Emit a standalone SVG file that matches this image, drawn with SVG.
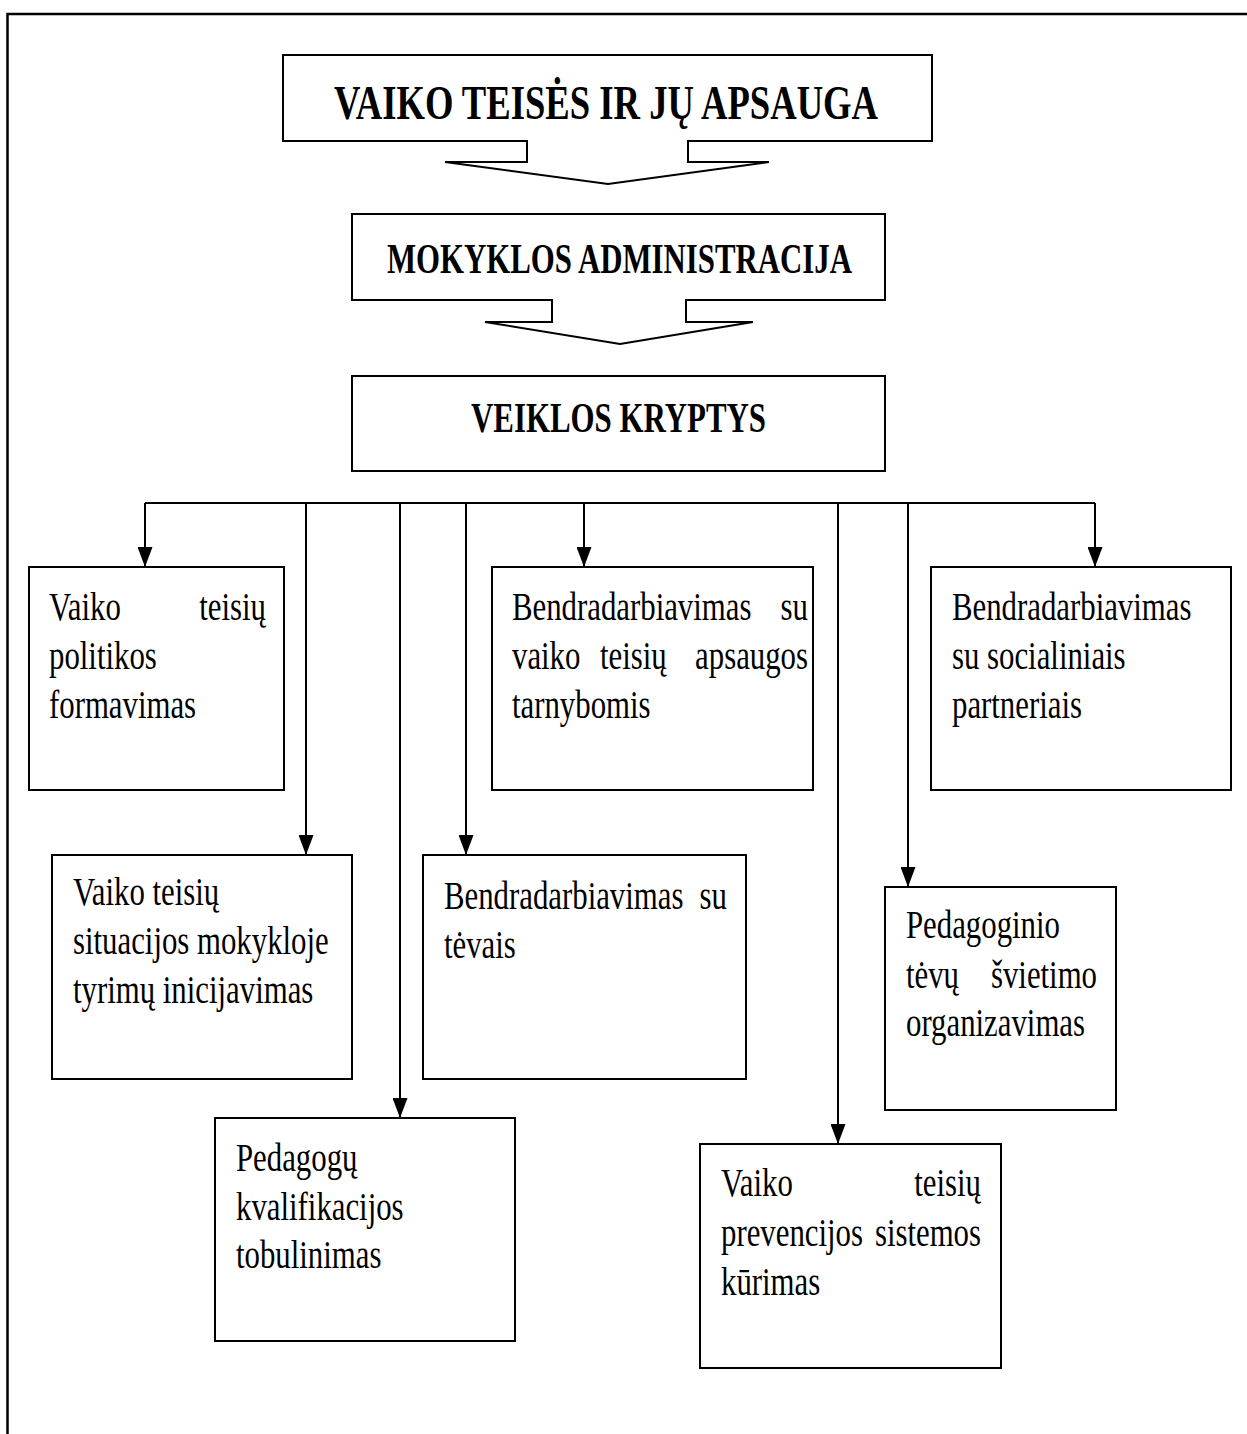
<svg xmlns="http://www.w3.org/2000/svg" width="1247" height="1434" viewBox="0 0 1247 1434">
<defs>
<style>
.bx{fill:#fff;stroke:#000;stroke-width:2}
.ln{fill:none;stroke:#000;stroke-width:2}
.tt{font-family:"Liberation Serif","Times New Roman",serif;font-weight:bold;fill:#000}
.t{font-family:"Liberation Serif","Times New Roman",serif;font-size:40px;fill:#000}
.e{text-anchor:end}
</style>
<marker id="ah" viewBox="0 0 20 15" refX="20" refY="7.5" markerWidth="20" markerHeight="15" markerUnits="userSpaceOnUse" orient="auto">
<path d="M0,0 L20,7.5 L0,15 Z" fill="#000"/>
</marker>
</defs>
<rect width="1247" height="1434" fill="#fff"/>
<path d="M7.5,1434 V14 H1247" fill="none" stroke="#000" stroke-width="2.5"/>

<g id="n-title">
<path class="bx" d="M283,55 H932 V141 H688 V162 H769 L608,184 L445,162 H527 V141 H283 Z"/>
<text class="tt" x="606" y="119" font-size="48" text-anchor="middle" textLength="544" lengthAdjust="spacingAndGlyphs">VAIKO TEISĖS IR JŲ APSAUGA</text>
</g>
<g id="n-admin">
<path class="bx" d="M352,214 H885 V300 H686 V322 H753 L620,344 L485,322 H552 V300 H352 Z"/>
<text class="tt" x="619.5" y="273" font-size="42" text-anchor="middle" textLength="465" lengthAdjust="spacingAndGlyphs">MOKYKLOS ADMINISTRACIJA</text>
</g>
<g id="n-kryptys">
<rect class="bx" x="352" y="376" width="533" height="95"/>
<text class="tt" x="618.5" y="432" font-size="42" text-anchor="middle" textLength="295" lengthAdjust="spacingAndGlyphs">VEIKLOS KRYPTYS</text>
</g>

<g id="connectors">
<path class="ln" d="M145,503 H1095"/>
<path class="ln" d="M145,503 V567" marker-end="url(#ah)"/>
<path class="ln" d="M306,503 V855" marker-end="url(#ah)"/>
<path class="ln" d="M400,503 V1118" marker-end="url(#ah)"/>
<path class="ln" d="M466,503 V855" marker-end="url(#ah)"/>
<path class="ln" d="M584,503 V567" marker-end="url(#ah)"/>
<path class="ln" d="M838,503 V1144" marker-end="url(#ah)"/>
<path class="ln" d="M908,503 V887" marker-end="url(#ah)"/>
<path class="ln" d="M1095,503 V567" marker-end="url(#ah)"/>
</g>

<g id="n1">
<rect class="bx" x="29" y="567" width="255" height="223"/>
<text class="t" transform="matrix(0.77 0 0 1 49 620)">Vaiko</text>
<text class="t e" transform="matrix(0.77 0 0 1 266 620)">teisių</text>
<text class="t" transform="matrix(0.77 0 0 1 49 669)">politikos</text>
<text class="t" transform="matrix(0.77 0 0 1 49 718)">formavimas</text>
</g>
<g id="n2">
<rect class="bx" x="492" y="567" width="321" height="223"/>
<text class="t" transform="matrix(0.77 0 0 1 512 620)">Bendradarbiavimas</text>
<text class="t e" transform="matrix(0.77 0 0 1 808 620)">su</text>
<text class="t" transform="matrix(0.77 0 0 1 512 669)">vaiko</text>
<text class="t" transform="matrix(0.77 0 0 1 600 669)">teisių</text>
<text class="t e" transform="matrix(0.77 0 0 1 808 669)">apsaugos</text>
<text class="t" transform="matrix(0.77 0 0 1 512 718)">tarnybomis</text>
</g>
<g id="n3">
<rect class="bx" x="931" y="567" width="300" height="223"/>
<text class="t" transform="matrix(0.77 0 0 1 952 620)">Bendradarbiavimas</text>
<text class="t" transform="matrix(0.77 0 0 1 952 669)">su socialiniais</text>
<text class="t" transform="matrix(0.77 0 0 1 952 718)">partneriais</text>
</g>
<g id="n4">
<rect class="bx" x="52" y="855" width="300" height="224"/>
<text class="t" transform="matrix(0.77 0 0 1 73 905)">Vaiko teisių</text>
<text class="t" transform="matrix(0.77 0 0 1 73 954)">situacijos mokykloje</text>
<text class="t" transform="matrix(0.77 0 0 1 73 1003)">tyrimų inicijavimas</text>
</g>
<g id="n5">
<rect class="bx" x="423" y="855" width="323" height="224"/>
<text class="t" transform="matrix(0.77 0 0 1 444 909)">Bendradarbiavimas</text>
<text class="t e" transform="matrix(0.77 0 0 1 727 909)">su</text>
<text class="t" transform="matrix(0.77 0 0 1 444 958)">tėvais</text>
</g>
<g id="n6">
<rect class="bx" x="885" y="887" width="231" height="223"/>
<text class="t" transform="matrix(0.77 0 0 1 906 938)">Pedagoginio</text>
<text class="t" transform="matrix(0.77 0 0 1 906 988)">tėvų</text>
<text class="t e" transform="matrix(0.77 0 0 1 1097 988)">švietimo</text>
<text class="t" transform="matrix(0.77 0 0 1 906 1036)">organizavimas</text>
</g>
<g id="n7">
<rect class="bx" x="215" y="1118" width="300" height="223"/>
<text class="t" transform="matrix(0.77 0 0 1 236 1171)">Pedagogų</text>
<text class="t" transform="matrix(0.77 0 0 1 236 1220)">kvalifikacijos</text>
<text class="t" transform="matrix(0.77 0 0 1 236 1268)">tobulinimas</text>
</g>
<g id="n8">
<rect class="bx" x="700" y="1144" width="301" height="224"/>
<text class="t" transform="matrix(0.77 0 0 1 721 1196)">Vaiko</text>
<text class="t e" transform="matrix(0.77 0 0 1 981 1196)">teisių</text>
<text class="t" transform="matrix(0.77 0 0 1 721 1246)">prevencijos</text>
<text class="t e" transform="matrix(0.77 0 0 1 981 1246)">sistemos</text>
<text class="t" transform="matrix(0.77 0 0 1 721 1295)">kūrimas</text>
</g>
</svg>
